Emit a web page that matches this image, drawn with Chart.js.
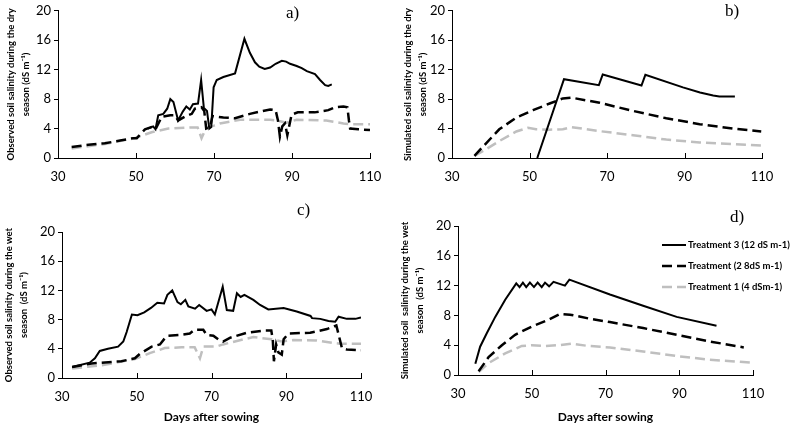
<!DOCTYPE html>
<html>
<head>
<meta charset="utf-8">
<title>Soil salinity - observed vs simulated</title>
<script src="https://cdn.jsdelivr.net/npm/chart.js"></script>
<style>
  body { margin: 0; background: #fff; width: 792px; height: 427px; position: relative; overflow: hidden; }
  canvas { position: absolute; }
  .tag { position: absolute; font-family: "Liberation Serif", serif; font-size: 17px; line-height: 1; color: #000; }
</style>
</head>
<body>
<canvas id="chartA" width="396" height="215" style="left:0;top:0"></canvas>
<canvas id="chartB" width="396" height="215" style="left:396px;top:0"></canvas>
<canvas id="chartC" width="396" height="214" style="left:0;top:213px"></canvas>
<canvas id="chartD" width="396" height="214" style="left:396px;top:213px"></canvas>
<div class="tag" style="left:286px;top:4px">a)</div>
<div class="tag" style="left:725px;top:2px">b)</div>
<div class="tag" style="left:297px;top:201px">c)</div>
<div class="tag" style="left:730px;top:208px">d)</div>

<script>
// [day, dS/m] pairs
const legendLabels = ["Treatment 3 (12 dS m-1)", "Treatment (2 8dS m-1)", "Treatment 1 (4 dSm-1)"];
const xTicks = [30, 50, 70, 90, 110];
const yTicks = [0, 4, 8, 12, 16, 20];

// a) observed, dry season
const obsDryT3 = [[53,4.0],[54.4,4.3],[55,3.9],[55.7,5.8],[57,6.0],[58,6.7],[58.8,8.0],[59.6,7.6],[60.8,5.1],[62,6.3],[62.9,7.0],[63.8,6.6],[64.6,7.3],[65.9,7.4],[66.7,10.6],[67.4,6.8],[68.2,6.4],[68.8,4.0],[69.3,4.2],[69.9,9.6],[70.7,10.6],[72.4,11.0],[75.4,11.5],[77.8,16.2],[79.2,14.3],[80.5,13.0],[81.6,12.4],[83,12.1],[84.4,12.3],[85.8,12.8],[87.4,13.2],[88.5,13.1],[89.5,12.8],[91.2,12.5],[92.5,12.2],[93.8,11.8],[95.9,11.4],[97.2,10.6],[98.5,9.9],[99.3,9.8],[100.2,10.0]];
const obsDryT2 = [[33.5,1.5],[37.8,1.8],[42,2.0],[46.3,2.4],[49.3,2.7],[50.2,2.7],[52.3,3.9],[54,4.2],[55,3.9],[56.6,5.6],[58.8,5.8],[60,5.8],[60.8,5.1],[62.5,5.6],[64.3,6.0],[65.1,6.7],[66.8,6.9],[67.5,6.4],[68,4.0],[69,4.2],[69.6,5.7],[72.4,5.5],[75.4,5.4],[79.2,6.0],[84.4,6.6],[85.8,6.5],[86.4,5.1],[86.9,2.9],[87.5,4.3],[88.2,4.7],[88.8,3.1],[89.9,5.9],[91.5,6.2],[95.8,6.2],[99.3,6.5],[101,6.9],[103.2,7.0],[104.2,6.9],[104.6,5.1],[104.9,4.0],[107,3.9],[110,3.8]];
const obsDryT1 = [[33.5,1.3],[42,1.9],[49.7,2.7],[54,3.5],[58.3,4.0],[64.3,4.15],[65.8,4.15],[66.8,2.7],[68,4.1],[70,4.4],[71.5,4.7],[76.7,5.2],[84.4,5.2],[86.1,5.1],[88.5,4.8],[89.9,5.0],[91.2,5.2],[98.8,5.1],[103.2,4.7],[104.9,4.6],[110,4.6]];

// b) simulated, dry season
const simDryT3 = [[52,0],[58.9,10.7],[67.9,9.9],[68.9,11.35],[78.9,9.85],[79.9,11.3],[89.6,9.6],[94,8.9],[97.4,8.5],[99,8.35],[103,8.35]];
const simDryT2 = [[35.8,0.3],[38.8,2.0],[42.2,3.9],[46.6,5.5],[50.9,6.5],[55.2,7.4],[58.6,8.1],[60.8,8.2],[68.1,7.5],[76.7,6.4],[85.3,5.4],[93.9,4.6],[102.5,4.0],[109.8,3.6]];
const simDryT1 = [[35.8,0.3],[38.8,1.2],[42.2,2.3],[46.6,3.6],[49.6,4.1],[51.7,3.9],[55.2,3.85],[58.6,3.9],[60.8,4.2],[68.1,3.65],[76.7,3.1],[85.3,2.5],[93.9,2.1],[102.5,1.9],[109.8,1.7]];

// c) observed, wet season
const obsWetT3 = [[32.7,1.5],[37.4,2.1],[38.8,2.7],[40.1,3.7],[42.3,4.0],[45,4.3],[46.4,5.0],[47.3,6.3],[48.7,8.7],[50.2,8.6],[52,9.0],[53.8,9.6],[55.5,10.3],[57.3,10.2],[58.2,11.4],[59.5,12.0],[60.9,10.4],[61.8,10.1],[63,10.7],[63.8,9.8],[65.6,9.5],[66.7,10.0],[68.7,9.2],[70,9.4],[70.9,8.7],[73,12.5],[74.1,9.3],[75.8,9.2],[76.8,11.6],[77.8,11.1],[78.8,11.4],[81.2,10.7],[83,10.0],[85.2,9.4],[89.3,9.6],[92.8,9.1],[96.5,8.5],[96.9,8.2],[99.1,8.1],[101.3,7.8],[103.1,7.7],[104,8.4],[106.2,8.1],[108.5,8.1],[110,8.3]];
const obsWetT2 = [[32.7,1.5],[37.9,2.0],[45.9,2.3],[49.5,2.7],[50.8,3.3],[54,4.3],[56.2,4.6],[57.6,5.5],[58.4,5.8],[61.5,5.9],[64.2,6.1],[65.5,6.6],[67.8,6.6],[68.7,5.9],[70.5,5.8],[71.8,5.3],[73.1,5.0],[74.9,5.5],[79.4,6.2],[84.3,6.5],[86,6.5],[86.4,5.2],[86.7,2.3],[87.3,4.6],[87.9,3.5],[88.8,3.2],[89.3,5.3],[90.6,6.1],[96.4,6.2],[100.9,6.7],[103.4,7.2],[104.9,4.1],[106.2,3.9],[110,3.8]];
const obsWetT1 = [[32.7,1.3],[41.4,1.8],[49.5,2.6],[53.5,3.4],[57.5,4.1],[62,4.2],[65.5,4.2],[66.9,2.7],[67.8,4.3],[71.3,4.3],[73.1,4.6],[78.6,5.3],[81.2,5.6],[86.1,5.3],[88.8,5.0],[91.9,5.2],[98.1,5.15],[102.6,4.8],[104.3,4.7],[110,4.7]];

// d) simulated, wet season
const simWetT3 = [[34.7,1.5],[36,3.8],[37.8,5.6],[40.1,7.8],[42.8,10.1],[45.8,12.3],[46.7,11.8],[47.6,12.4],[48.5,11.8],[49.5,12.4],[50.6,11.8],[51.6,12.4],[52.7,11.8],[53.6,12.4],[54.7,11.9],[55.9,12.5],[59,12.0],[60.2,12.8],[71.2,10.8],[80.2,9.3],[89.3,7.8],[100.1,6.6]];
const simWetT2 = [[35.6,0.5],[38.3,2.4],[41.9,4.0],[45.5,5.4],[50,6.5],[54.5,7.4],[57.7,8.2],[60.4,8.1],[65.3,7.6],[71.2,7.1],[80.2,6.3],[89.3,5.4],[98.3,4.5],[107.5,3.7]];
const simWetT1 = [[35.6,0.4],[38.3,1.6],[42.8,2.9],[47.3,3.9],[50,4.0],[53.6,3.9],[57.2,4.0],[60.8,4.2],[65.3,3.9],[71.2,3.7],[80.2,3.15],[89.3,2.55],[98.3,2.05],[110,1.65]];

const FONT = "Lato";
const lineColors = ["#000000", "#000000", "#bfbfbf"];
const lineWidths = [2, 2.5, 2.5];
const lineDashes = [[], [10, 5], [10, 5]];

// x-axis tick marks point up into the plot in the original
const innerTicks = {
  id: "innerTicks",
  afterDraw(chart) {
    const sx = chart.scales.x, ctx = chart.ctx, b = chart.chartArea.bottom;
    ctx.save();
    ctx.strokeStyle = "#000";
    ctx.lineWidth = 1;
    sx.ticks.forEach(t => {
      const px = Math.round(sx.getPixelForValue(t.value)) + 0.5;
      ctx.beginPath();
      ctx.moveTo(px, b);
      ctx.lineTo(px, b - 5);
      ctx.stroke();
    });
    ctx.restore();
  }
};

const sideLegend = {
  id: "sideLegend",
  afterDraw(chart, args, o) {
    if (!o.show) return;
    const ctx = chart.ctx;
    chart.data.datasets.forEach((ds, i) => {
      const y = o.top + i * o.gap;
      ctx.save();
      ctx.strokeStyle = ds.borderColor;
      ctx.lineWidth = ds.borderWidth;
      ctx.setLineDash(ds.borderDash);
      ctx.beginPath();
      ctx.moveTo(o.left, y);
      ctx.lineTo(o.left + 24, y);
      ctx.stroke();
      ctx.setLineDash([]);
      ctx.fillStyle = "#000";
      ctx.font = "bold 9.5px " + FONT;
      ctx.textBaseline = "middle";
      ctx.fillText(ds.label, o.left + 26, y);
      ctx.restore();
    });
  }
};

function makeChart(id, cfg) {
  const sets = cfg.series.map((pairs, i) => ({
    label: legendLabels[i],
    data: pairs.map(p => ({ x: p[0], y: p[1] })),
    borderColor: lineColors[i],
    borderWidth: lineWidths[i],
    borderDash: lineDashes[i],
    pointRadius: 0,
    tension: 0,
    fill: false
  }));
  return new Chart(document.getElementById(id), {
    type: "line",
    data: { datasets: sets },
    options: {
      responsive: false,
      animation: false,
      events: [],
      layout: { padding: cfg.pad },
      plugins: {
        legend: { display: false },
        tooltip: { enabled: false },
        sideLegend: cfg.legend || { show: false }
      },
      scales: {
        x: {
          type: "linear",
          min: xTicks[0],
          max: xTicks[xTicks.length - 1],
          afterFit: s => { s.height = cfg.xHeight; },
          afterBuildTicks: s => { s.ticks = xTicks.map(v => ({ value: v })); },
          ticks: { color: "#000", font: { family: FONT, size: 13 }, padding: 11 },
          grid: { drawOnChartArea: false, drawTicks: false },
          border: { color: "#000", width: 1 },
          title: cfg.xTitle
            ? { display: true, text: cfg.xTitle, color: "#000", font: { family: FONT, size: 12, weight: "bold" }, padding: { top: 0, bottom: 3 } }
            : { display: false }
        },
        y: {
          min: yTicks[0],
          max: yTicks[yTicks.length - 1],
          afterFit: s => { s.width = cfg.yWidth; },
          afterBuildTicks: s => { s.ticks = yTicks.map(v => ({ value: v })); },
          ticks: { color: "#000", font: { family: FONT, size: 13 }, padding: 3 },
          grid: { drawOnChartArea: false, tickLength: 4, color: "#000" },
          border: { color: "#000", width: 1 },
          title: {
            display: true,
            text: cfg.yTitle,
            color: "#000",
            font: { family: FONT, size: 9.5, weight: "bold", lineHeight: 1.55 },
            padding: { top: cfg.yTitlePad, bottom: 0 }
          }
        }
      }
    },
    plugins: [innerTicks, sideLegend]
  });
}

makeChart("chartA", {
  series: [obsDryT3, obsDryT2, obsDryT1],
  pad: { left: 0, top: 9, right: 26, bottom: 0 },
  yWidth: 58, xHeight: 57, yTitlePad: 4,
  yTitle: ["Observed soil salinity during the dry", "season (dS m\u207B\u00B9)"]
});
makeChart("chartB", {
  series: [simDryT3, simDryT2, simDryT1],
  pad: { left: 0, top: 9, right: 30, bottom: 0 },
  yWidth: 56, xHeight: 57, yTitlePad: 5,
  yTitle: ["Simulated soil salinity during the dry", "season (dS m\u207B\u00B9)"]
});
makeChart("chartC", {
  series: [obsWetT3, obsWetT2, obsWetT1],
  pad: { left: 0, top: 19, right: 35, bottom: 0 },
  yWidth: 62, xHeight: 49, yTitlePad: 2,
  yTitle: ["Observed soil salinity during the wet", "season  (dS m\u207B\u00B9)"],
  xTitle: "Days after sowing"
});
makeChart("chartD", {
  series: [simWetT3, simWetT2, simWetT1],
  pad: { left: 0, top: 13, right: 39, bottom: 0 },
  yWidth: 62, xHeight: 52, yTitlePad: 2,
  yTitle: ["Simulated soil  salinity during the wet", "season  (dS m\u207B\u00B9)"],
  xTitle: "Days after sowing",
  legend: { show: true, left: 266, top: 32, gap: 21 }
});
</script>
</body>
</html>
